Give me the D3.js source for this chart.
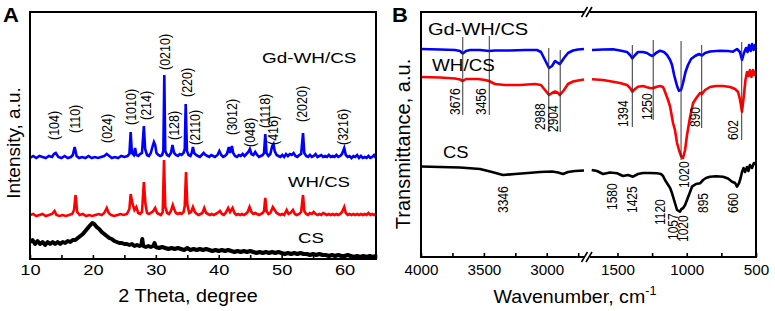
<!DOCTYPE html>
<html>
<head>
<meta charset="utf-8">
<script src="https://cdn.jsdelivr.net/npm/d3@7/dist/d3.min.js"></script>
<style>
  body { margin: 0; background: #fff; }
  svg { display: block; font-family: "Liberation Sans", Arial, sans-serif; }
</style>
</head>
<body>
<div id="chart"></div>
<script>
// ---------- XRD data (panel A), 2 theta vs intensity (a.u.) ----------
const xrdNames = ['Gd-WH/CS', 'WH/CS', 'CS']
const xrdTicks = [10, 20, 30, 40, 50, 60]
const xrdMinorTicks = [15, 25, 35, 45, 55, 65]

const xrdGdWh = [[10,101],[10.5,103],[11,101],[11.5,103],[12,102],[12.5,101],[13,103],[13.5,102],[13.8,105],[14.1,106],[14.5,102],[15,101],[15.5,103],[16,101],[16.5,102],[16.8,104],[17.1,112],[17.4,103],[17.8,101],[18.3,102],[18.8,101],[19.3,103],[19.8,101],[20.3,102],[20.8,101],[21.3,102],[21.8,103],[22.2,105],[22.6,103],[23,101],[23.5,102],[24,101],[24.5,103],[25,102],[25.5,103],[25.8,105],[26,127],[26.2,106],[26.5,104],[26.7,111],[26.9,104],[27.2,103],[27.5,105],[27.8,106],[28.1,133],[28.3,110],[28.6,104],[28.9,103],[29.2,106],[29.5,113],[29.7,117],[29.9,114],[30.1,106],[30.4,104],[30.7,103],[31,104],[31.2,108],[31.35,184],[31.5,108],[31.8,104],[32.1,103],[32.4,106],[32.65,114],[32.9,106],[33.2,104],[33.5,103],[33.8,105],[34.1,104],[34.4,106],[34.6,110],[34.75,155],[34.95,108],[35.2,104],[35.5,103],[35.7,106],[35.9,112],[36.1,106],[36.4,104],[36.7,103],[37,102],[37.3,104],[37.6,106],[37.9,104],[38.2,103],[38.5,102],[38.8,104],[39.1,103],[39.4,102],[39.8,104],[40.1,108],[40.4,104],[40.7,102],[41,103],[41.3,105],[41.6,112],[41.8,106],[42.1,113],[42.3,106],[42.6,103],[42.9,102],[43.2,104],[43.5,103],[43.8,105],[44.1,103],[44.4,105],[44.7,107],[44.95,110],[45.2,105],[45.5,104],[45.8,107],[46.1,104],[46.4,102],[46.7,103],[47,104],[47.2,106],[47.4,125],[47.6,106],[47.9,103],[48.2,105],[48.5,113],[48.7,115],[48.9,108],[49.2,104],[49.5,103],[49.8,102],[50.1,104],[50.4,102],[50.7,105],[51,103],[51.3,105],[51.6,104],[51.9,106],[52.2,103],[52.5,102],[52.8,104],[53.1,105],[53.4,126],[53.6,106],[53.9,103],[54.2,102],[54.5,104],[54.8,102],[55.1,103],[55.4,105],[55.7,102],[56,103],[56.3,104],[56.6,102],[56.9,103],[57.2,102],[57.5,104],[57.8,102],[58.1,103],[58.4,102],[58.7,104],[59,102],[59.3,103],[59.6,105],[59.95,111],[60.2,104],[60.5,102],[60.8,103],[61.1,101],[61.4,103],[61.7,102],[62,104],[62.3,101],[62.6,103],[62.9,101],[63.2,102],[63.5,101],[63.8,103],[64.1,101],[64.4,102],[64.7,104],[65,101]]

const xrdWh = [[10,44],[10.5,45],[11,43],[11.5,44],[12,45],[12.5,43],[13,44],[13.5,45],[13.9,48],[14.2,44],[14.7,43],[15.2,44],[15.7,43],[16.2,44],[16.7,45],[17,49],[17.25,64],[17.5,47],[17.9,44],[18.4,45],[18.9,43],[19.4,44],[19.9,43],[20.4,44],[20.9,45],[21.4,44],[21.8,46],[22.2,51],[22.5,46],[22.9,44],[23.4,43],[23.9,44],[24.4,45],[24.9,44],[25.4,45],[25.8,50],[26,65],[26.3,55],[26.6,49],[26.9,52],[27.2,46],[27.5,45],[27.8,47],[28.1,77],[28.35,55],[28.6,46],[28.9,45],[29.2,46],[29.6,48],[29.9,51],[30.2,46],[30.5,45],[30.8,44],[31.1,47],[31.3,99],[31.5,52],[31.8,46],[32.1,45],[32.4,48],[32.7,54],[32.9,50],[33.2,46],[33.5,45],[33.8,46],[34.1,45],[34.4,47],[34.6,53],[34.8,87],[35,55],[35.3,46],[35.6,47],[35.9,52],[36.2,47],[36.5,45],[36.8,44],[37.1,45],[37.4,46],[37.7,51],[38,46],[38.3,45],[38.6,44],[38.9,45],[39.2,44],[39.5,45],[39.8,46],[40.2,48],[40.5,45],[40.8,44],[41.1,46],[41.5,51],[41.8,47],[42.2,51],[42.5,46],[42.8,44],[43.1,45],[43.4,44],[43.7,45],[44,44],[44.3,45],[44.6,47],[44.9,52],[45.2,47],[45.5,45],[45.8,46],[46.1,45],[46.4,44],[46.7,45],[47,46],[47.2,48],[47.4,61],[47.6,48],[47.9,45],[48.2,46],[48.6,52],[48.9,49],[49.2,46],[49.5,45],[49.8,44],[50.1,45],[50.4,44],[50.8,49],[51.1,45],[51.4,46],[51.8,49],[52.1,45],[52.4,44],[52.8,45],[53.1,47],[53.4,64],[53.6,48],[53.9,45],[54.2,44],[54.5,46],[54.8,45],[55.1,47],[55.4,45],[55.7,44],[56,45],[56.3,44],[56.6,46],[56.9,45],[57.2,44],[57.5,45],[57.8,44],[58.1,45],[58.4,44],[58.7,45],[59,44],[59.3,45],[59.6,47],[59.95,52],[60.2,46],[60.5,44],[60.8,45],[61.1,44],[61.4,45],[61.7,44],[62,45],[62.3,44],[62.6,45],[62.9,44],[63.2,45],[63.5,44],[63.8,46],[64.1,44],[64.4,45],[64.7,44],[65,45]]

const xrdCs = [[10,17],[10.4,19],[10.8,15],[11.2,18],[11.6,15],[12,17],[12.4,14],[12.8,17],[13.2,15],[13.6,17],[14,15],[14.4,17],[14.8,15],[15.2,17],[15.6,16],[16,18],[16.4,17],[16.8,19],[17.2,19],[17.6,21],[18,23],[18.4,25],[18.8,28],[19.2,31],[19.6,34],[19.9,36],[20.2,35],[20.6,32],[21,30],[21.4,27],[21.8,25],[22.2,23],[22.6,21],[23,20],[23.4,18],[23.8,17],[24.2,16],[24.6,16],[25,15],[25.4,15],[25.8,14],[26.2,15],[26.6,13],[27,14],[27.4,13],[27.7,14],[27.85,20],[28,13],[28.4,12],[28.8,13],[29.2,12],[29.6,13],[29.8,16],[30,12],[30.5,11],[31,12],[31.5,11],[32,10],[32.5,11],[33,10],[33.5,11],[34,10],[34.5,9],[35,11],[35.5,9],[36,10],[36.5,9],[37,10],[37.5,9],[38,10],[38.5,9],[39,8],[39.5,9],[40,8],[40.5,9],[41,8],[41.5,9],[42,8],[42.5,7],[43,8],[43.5,7],[44,8],[44.5,7],[45,8],[45.5,7],[46,6],[46.5,7],[47,6],[47.5,7],[48,6],[48.5,7],[49,6],[49.5,7],[50,6],[50.5,5],[51,6],[51.5,5],[52,6],[52.5,5],[53,6],[53.5,5],[54,5],[54.5,4],[55,5],[55.5,4],[56,5],[56.5,4],[57,4],[57.5,3],[58,4],[58.5,3],[59,4],[59.5,3],[60,3],[60.5,4],[61,3],[61.5,2],[62,3],[62.5,2],[63,3],[63.5,2],[64,3],[64.5,2],[65,3]]

const hklLabels = ['(104)','(110)','(024)','(1010)','(214)','(0210)','(128)','(220)','(2110)','(3012)','(048)','(1118)','(416)','(2020)','(3216)']
const hklTheta = [13.8, 17.1, 22.2, 26.0, 28.4, 31.4, 32.9, 34.9, 36.3, 42.1, 44.9, 47.3, 48.7, 53.3, 59.7]
const hklBase = [119, 126, 116, 134, 139, 189, 119, 162, 114, 124, 112, 131, 114, 137, 114]

// ---------- FTIR data (panel B), wavenumber vs transmittance (a.u.) ----------
const irNames = ['Gd-WH/CS', 'WH/CS', 'CS']
const irTicksHigh = [4000, 3500, 3000]
const irMinorHigh = [3750, 3250, 2750]
const irTicksLow = [1500, 1000, 500]
const irMinorLow = [1250, 750]

const irGdHigh = [[4000,208],[3849,207.5],[3730,207],[3690,206],[3668,203.5],[3642,206],[3610,207],[3531,207],[3459,206],[3412,206.5],[3292,206.5],[3173,207],[3078,207],[3046,205],[3014,197],[2982,189],[2958,191],[2934,196],[2910,194],[2895,193],[2863,199],[2831,204],[2791,206.5],[2752,207.5],[2704,208]]
const irGdLow = [[1684,207],[1604,207.5],[1532,207.7],[1482,206.5],[1431,205],[1409,202],[1393,198.7],[1373,202],[1352,205],[1316,205],[1287,204],[1265,202],[1246,201],[1222,204],[1193,206.3],[1164,205],[1142,202],[1120,197],[1106,192],[1091,182],[1070,171],[1056,166.3],[1041,167],[1027,174],[1009,185],[991,192],[969,198],[940,201],[911,203],[890,201.5],[868,204],[832,205.5],[760,206.3],[702,206],[666,205.3],[637,208],[616,205],[601,197],[587,204],[572,209],[561,205],[550,212],[539,206],[528,213],[518,207],[507,212],[500,208]]

const irWhHigh = [[4000,180],[3849,179.5],[3730,178.5],[3690,177.5],[3668,176],[3642,178],[3547,178],[3491,177],[3459,176],[3412,173],[3332,172],[3213,172],[3093,173],[3046,172],[3014,167],[2982,162],[2958,164],[2934,165.5],[2910,164],[2895,162],[2863,167],[2831,173],[2791,175.5],[2752,176.5],[2704,177.5]]
const irWhLow = [[1684,177.7],[1604,177],[1532,175.3],[1482,174],[1431,172],[1409,169],[1393,165.3],[1373,168],[1352,170.3],[1316,171],[1287,169.7],[1265,169],[1246,168.7],[1222,170],[1193,171],[1171,170],[1157,165.3],[1135,157],[1120,150.3],[1099,134],[1085,127],[1070,114],[1056,107],[1041,101],[1027,99],[1012,107],[998,122],[976,140],[954,154],[926,160],[904,164],[890,163],[868,167],[832,170],[789,171],[738,171],[687,170],[651,168],[629,165],[615,157],[601,145.3],[587,162],[576,177],[565,185],[554,181],[544,187],[533,180],[522,187],[511,182],[500,186]]

const irCsHigh = [[4000,90.5],[3849,90],[3690,89.5],[3531,88],[3435,85],[3348,82],[3252,83],[3149,84],[3054,85],[2958,85.5],[2910,84.5],[2871,83],[2831,85],[2775,86],[2704,86.5]]
const irCsLow = [[1686,87],[1648,86],[1604,83],[1554,84.5],[1503,83.7],[1460,81],[1424,82],[1388,80.3],[1352,83],[1316,84],[1265,84],[1215,83.7],[1186,83],[1171,81],[1157,77],[1142,73.7],[1120,69],[1106,63.7],[1085,54],[1070,47],[1049,45.3],[1038,48],[1027,48.7],[1012,52],[998,57],[976,65],[962,70.3],[933,73],[904,73.7],[882,77],[861,79],[832,80.3],[789,80.7],[738,80.3],[702,78.5],[673,75.3],[651,74],[637,70.3],[622,74],[611,79],[601,85],[590,89],[579,85],[565,90],[554,86],[544,92],[529,89],[515,94],[500,93]]

// marker lines through Gd-WH/CS and WH/CS
const irMarks = ['3676','3456','2988','2904','1394','1250','1020','890','602']
const irMarkWn = [3668, 3457, 2984, 2893, 1393, 1242, 1041, 892, 603]
const irMarkTop = [220, 221, 209, 207, 212, 217, 216, 212, 215]
const irMarkBottom = [142, 142, 125, 125, 130, 137, 97, 129, 117]
const irMarkLabelWn = [3730, 3523, 3054, 2950, 1458, 1289, 1020, 940, 666]
const irMarkLabelBase = [142, 142, 127, 125, 130, 137, 69, 130, 117]

// CS band labels
const csMarks = ['3346','1580','1425','1120','1057','1020','895','660']
const csMarkWn = [3348, 1540, 1395, 1193, 1099, 1027, 883, 666]
const csMarkBase = [44, 47, 44, 32, 17, 15, 44, 44]

// ---------- layout ----------
const W = 775, H = 311
const svg = d3.select('#chart').append('svg').attr('width', W).attr('height', H)

const colors = { 'Gd-WH/CS': '#0000ff', 'WH/CS': '#ff0000', 'CS': '#000000' }

function txt(g, x, y, s, size, sx, opts) {
  opts = opts || {}
  let t = g.append('text')
    .attr('transform', `translate(${x},${y}) scale(${sx},1)` + (opts.rot ? ' rotate(-90)' : ''))
    .attr('text-anchor', opts.anchor || 'start')
    .style('font-size', size + 'px')
    .style('font-weight', opts.bold ? 'bold' : null)
    .attr('fill', '#000')
  if (opts.rot && !opts.noCenter) t.attr('dy', '0.35em')
  t.text(s)
  return t
}

// ================= Panel A =================
const A = { left: 30, right: 376, top: 12, bottom: 259 }
const xA = d3.scaleLinear().domain([10, 65]).range([A.left, A.right])
const yA = d3.scaleLinear().domain([0, 247]).range([A.bottom, A.top])
const gA = svg.append('g')

const lineA = d3.line().x(d => xA(d[0])).y(d => yA(d[1]))

gA.append('path').datum(xrdCs).attr('d', lineA)
  .attr('fill', 'none').attr('stroke', colors['CS']).attr('stroke-width', 4).attr('stroke-linejoin', 'round')
gA.append('path').datum(xrdWh).attr('d', lineA)
  .attr('fill', 'none').attr('stroke', colors['WH/CS']).attr('stroke-width', 2.6)
gA.append('path').datum(xrdGdWh).attr('d', lineA)
  .attr('fill', 'none').attr('stroke', colors['Gd-WH/CS']).attr('stroke-width', 2.6)

// hkl labels
hklLabels.forEach((h, i) => {
  txt(gA, xA(hklTheta[i]), yA(hklBase[i]), h, 12.5, 1.15, { rot: true })
})

// frame
gA.append('rect').attr('x', A.left).attr('y', A.top)
  .attr('width', A.right - A.left).attr('height', A.bottom - A.top)
  .attr('fill', 'none').attr('stroke', '#000').attr('stroke-width', 2)

// x axis
const axA = gA.append('g').attr('transform', `translate(0,${A.bottom})`)
  .call(d3.axisBottom(xA).tickValues(xrdTicks.concat(xrdMinorTicks))
    .tickSizeInner(-4).tickSizeOuter(0)
    .tickFormat(d => xrdTicks.includes(d) ? d : ''))
axA.select('.domain').remove()
axA.selectAll('line').attr('stroke', '#000').attr('stroke-width', 1.6)
axA.selectAll('text').attr('y', 16).attr('dy', 0).attr('fill', '#000')
  .attr('transform', 'scale(1.26,1)')
  .style('font-size', '14.5px').style('font-family', '"Liberation Sans", Arial, sans-serif')

// series labels
txt(gA, 262, 63, xrdNames[0], 15.5, 1.22)
txt(gA, 288, 187, xrdNames[1], 15.5, 1.2)
txt(gA, 298, 243, xrdNames[2], 15.5, 1.2)

// axis titles
txt(gA, 188, 302, '2 Theta, degree', 18.5, 1.07, { anchor: 'middle' })
txt(gA, 20, 143, 'Intensity, a.u.', 19, 1, { anchor: 'middle', rot: true, noCenter: true })
txt(gA, 3, 22, 'A', 20, 1.1, { bold: true })

// ================= Panel B =================
const B = { left: 421, right: 756, top: 12, bottom: 257, brk: 587 }
const xBh = d3.scaleLinear().domain([4000, 2680]).range([B.left, B.brk])
const xBl = d3.scaleLinear().domain([1720, 500]).range([B.brk, B.right])
const yB = d3.scaleLinear().domain([0, 245]).range([B.bottom, B.top])
const xB = wn => wn > 2000 ? xBh(wn) : xBl(wn)
const gB = svg.append('g')

const lineBh = d3.line().x(d => xBh(d[0])).y(d => yB(d[1]))
const lineBl = d3.line().x(d => xBl(d[0])).y(d => yB(d[1]))

const irSets = [
  [irCsHigh, irCsLow, 'CS'],
  [irWhHigh, irWhLow, 'WH/CS'],
  [irGdHigh, irGdLow, 'Gd-WH/CS']
]
irSets.forEach(s => {
  gB.append('path').datum(s[0]).attr('d', lineBh)
    .attr('fill', 'none').attr('stroke', colors[s[2]]).attr('stroke-width', 2.6).attr('stroke-linejoin', 'round')
  gB.append('path').datum(s[1]).attr('d', lineBl)
    .attr('fill', 'none').attr('stroke', colors[s[2]]).attr('stroke-width', 2.6).attr('stroke-linejoin', 'round')
})

// marker lines and labels
irMarks.forEach((m, i) => {
  gB.append('line')
    .attr('x1', xB(irMarkWn[i])).attr('x2', xB(irMarkWn[i]))
    .attr('y1', yB(irMarkTop[i])).attr('y2', yB(irMarkBottom[i]))
    .attr('stroke', '#333').attr('stroke-width', 1)
  txt(gB, xB(irMarkLabelWn[i]), yB(irMarkLabelBase[i]), m, 12, 1.15, { rot: true })
})
csMarks.forEach((m, i) => {
  txt(gB, xB(csMarkWn[i]), yB(csMarkBase[i]), m, 12, 1.15, { rot: true })
})

// frame with axis break
gB.append('rect').attr('x', B.left).attr('y', B.top)
  .attr('width', B.right - B.left).attr('height', B.bottom - B.top)
  .attr('fill', 'none').attr('stroke', '#000').attr('stroke-width', 2)
;[B.top, B.bottom].forEach(yy => {
  gB.append('rect').attr('x', B.brk - 3).attr('y', yy - 2).attr('width', 6).attr('height', 4).attr('fill', '#fff')
  ;[-2.5, 2].forEach(o => {
    gB.append('line').attr('x1', B.brk + o - 3).attr('y1', yy + 5).attr('x2', B.brk + o + 3).attr('y2', yy - 5)
      .attr('stroke', '#000').attr('stroke-width', 1.6)
  })
})

// x axes (two segments)
function irAxis(scale, major, minor) {
  const ax = gB.append('g').attr('transform', `translate(0,${B.bottom})`)
    .call(d3.axisBottom(scale).tickValues(major.concat(minor))
      .tickSizeInner(-4).tickSizeOuter(0)
      .tickFormat(d => major.includes(d) ? d : ''))
  ax.select('.domain').remove()
  ax.selectAll('line').attr('stroke', '#000').attr('stroke-width', 1.6)
  ax.selectAll('text').attr('y', 18).attr('dy', 0).attr('fill', '#000')
    .attr('transform', 'scale(1.05,1)')
    .style('font-size', '14.5px').style('font-family', '"Liberation Sans", Arial, sans-serif')
}
irAxis(xBh, irTicksHigh, irMinorHigh)
irAxis(xBl, irTicksLow, irMinorLow)

// series labels
txt(gB, 428, 35, irNames[0], 17, 1.18)
txt(gB, 432, 71, irNames[1], 17, 1.11)
txt(gB, 443, 158, irNames[2], 17, 1.08)

// axis titles
const xt = txt(gB, 575, 303, '', 18.5, 1.06, { anchor: 'middle' })
xt.append('tspan').text('Wavenumber, cm')
xt.append('tspan').attr('dy', -8).style('font-size', '12px').text('-1')
txt(gB, 410, 144, 'Transmittance, a.u.', 20, 1, { anchor: 'middle', rot: true, noCenter: true })
txt(gB, 392, 22, 'B', 20, 1.1, { bold: true })
</script>
</body>
</html>
